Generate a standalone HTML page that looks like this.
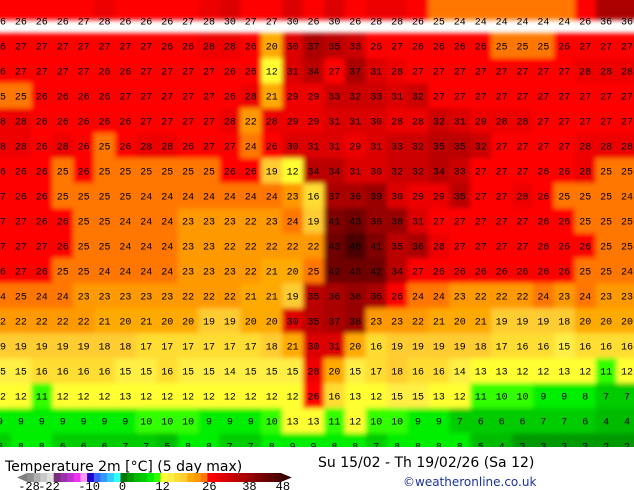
<!DOCTYPE html>
<html><head><meta charset="utf-8"><style>
html,body{margin:0;padding:0;background:#fff;width:634px;height:490px;overflow:hidden}
svg{display:block}
text{font-family:"Liberation Mono","DejaVu Sans Mono",monospace}
</style></head><body>
<svg id="chart" width="634" height="490" viewBox="0 0 634 490" xmlns="http://www.w3.org/2000/svg">
<defs><clipPath id="mapclip"><rect x="0" y="0" width="634" height="447"/></clipPath>
<filter id="soft" x="-5%" y="-5%" width="110%" height="110%"><feGaussianBlur stdDeviation="2.5"/></filter></defs>
<g clip-path="url(#mapclip)"><g id="field" filter="url(#soft)"></g></g>
<g id="labels" clip-path="url(#mapclip)"></g>
<text x="5" y="471" font-size="14" fill="#000" style="font-family:'DejaVu Sans',sans-serif">Temperature 2m [°C] (5 day max)</text>
<text x="318" y="467" font-size="14" fill="#000" style="font-family:'DejaVu Sans',sans-serif">Su 15/02 - Th 19/02/26 (Sa 12)</text>
<text x="403" y="486" font-size="12" fill="#1a3399" style="font-family:'DejaVu Sans',sans-serif">©weatheronline.co.uk</text>
<g id="legend"></g>
</svg>
<script>
const grid = [
[26,26,26,26,27,28,26,26,26,27,28,30,27,27,30,26,30,26,28,28,26,25,24,24,24,24,24,24,26,36,36],
[26,27,27,27,27,27,27,27,26,26,28,28,26,20,30,37,35,33,26,27,26,26,26,26,25,25,25,26,27,27,27],
[26,27,27,27,27,26,26,27,27,27,27,26,26,12,31,34,27,37,31,28,27,27,27,27,27,27,27,27,28,28,28],
[25,25,26,26,26,26,27,27,27,27,27,26,28,21,29,29,33,32,33,31,32,27,27,27,27,27,27,27,27,27,27],
[28,28,26,26,26,26,26,27,27,27,27,28,22,28,29,29,31,31,30,28,28,32,31,29,28,28,27,27,27,27,27],
[28,28,26,28,26,25,26,28,28,26,27,27,24,26,30,31,31,29,31,33,32,35,35,32,27,27,27,27,28,28,28],
[26,26,26,25,26,25,25,25,25,25,25,26,26,19,12,34,34,31,30,32,32,34,33,27,27,27,26,26,28,25,25],
[27,26,26,25,25,25,25,24,24,24,24,24,24,24,23,16,37,36,39,30,29,29,35,27,27,28,26,25,25,25,24],
[27,27,26,26,25,25,24,24,24,23,23,23,22,23,24,19,41,43,38,38,31,27,27,27,27,27,26,26,25,25,25],
[27,27,27,26,25,25,24,24,24,23,23,22,22,22,22,22,43,46,41,35,36,28,27,27,27,27,26,26,26,25,25],
[26,27,26,25,25,24,24,24,24,23,23,23,22,21,20,25,42,43,42,34,27,26,26,26,26,26,26,26,25,25,24],
[24,25,24,24,23,23,23,23,23,22,22,22,21,21,19,35,36,38,36,26,24,24,23,22,22,22,24,23,24,23,23],
[22,22,22,22,22,21,20,21,20,20,19,19,20,20,30,35,37,38,23,23,22,21,20,21,19,19,19,18,20,20,20],
[19,19,19,19,19,18,18,17,17,17,17,17,17,18,21,30,31,20,16,19,19,19,19,18,17,16,16,15,16,16,16],
[15,15,16,16,16,16,15,15,16,15,15,14,15,15,15,28,20,15,17,18,16,16,14,13,13,12,12,13,12,11,12],
[12,12,11,12,12,12,13,12,12,12,12,12,12,12,12,26,16,13,12,15,15,13,12,11,10,10,9,9,8,7,7],
[9,9,9,9,9,9,9,10,10,10,9,9,9,10,13,13,11,12,10,10,9,9,7,6,6,6,7,7,6,4,4],
[6,8,8,6,6,6,7,7,5,8,8,7,7,8,9,9,8,8,7,8,8,8,8,5,4,3,3,3,3,2,2]
];
const legendTicks = [-28,-22,-10,0,12,26,38,48];
const legendColors = ["#909090","#b0b0b0","#c8c8c8","#e0e0e0",
 "#7a2d7a","#9933aa","#bb33cc","#ee33ee","#ff99ff",
 "#2200cc","#3366ff","#3399ff","#33ccff","#33ffff",
 "#007700","#009900","#00bb00","#00cc00","#00ee00","#33ff00",
 "#ffff33","#ffee44","#ffdd33","#ffcc33","#ffaa00","#ff9900","#ff7700",
 "#ff0000","#ee0000","#dd0000","#cc0000","#bb0000","#aa0000",
 "#990000","#800000","#700000","#600000","#4c0000"];
const NS="http://www.w3.org/2000/svg";
const colX = i => 20.9*i;
const rowY = r => 20.7 + 25*r;
function colorOf(v){let k=Math.floor((v+28)/2);k=Math.max(0,Math.min(legendColors.length-1,k));return legendColors[k];}
const field=document.getElementById('field'), labels=document.getElementById('labels');
grid.forEach((row,r)=>row.forEach((v,c)=>{
  const rc=document.createElementNS(NS,'rect');
  const x0 = c===0 ? -20 : colX(c)-10.45;
  const w = (c===0 || c===row.length-1) ? 40 : 21.5;
  const y0 = r===0 ? -20 : rowY(r)-12.5;
  const h = (r===0 || r===grid.length-1) ? 40 : 25.5;
  rc.setAttribute('x',x0);rc.setAttribute('y',y0);
  rc.setAttribute('width',w);rc.setAttribute('height',h);
  rc.setAttribute('fill',colorOf(v));
  
  
  field.appendChild(rc);
  const t=document.createElementNS(NS,'text');
  t.setAttribute('x',colX(c));t.setAttribute('y',rowY(r)+4);
  t.setAttribute('text-anchor','middle');t.setAttribute('font-size','10');t.setAttribute('fill','#000');
  t.textContent=v;
  
  
  labels.appendChild(t);
}));
const lg=document.getElementById('legend');
const lx0=27, sw=6.68, ly=473, lh=9;
const legX = v => lx0 + (v+28)/2*sw;
const la=document.createElementNS(NS,'polygon');
la.setAttribute('points',`${lx0},${ly} ${lx0-10},${ly+lh/2} ${lx0},${ly+lh}`);la.setAttribute('fill','#808080');


lg.appendChild(la);
legendColors.forEach((col,i)=>{
  const r=document.createElementNS(NS,'rect');
  r.setAttribute('x',legX(-28+2*i));r.setAttribute('y',ly);r.setAttribute('width',sw+0.4);r.setAttribute('height',lh);r.setAttribute('fill',col);
  
  
  lg.appendChild(r);
});
const xe=legX(48);
const ra=document.createElementNS(NS,'polygon');
ra.setAttribute('points',`${xe},${ly} ${xe+11},${ly+lh/2} ${xe},${ly+lh}`);ra.setAttribute('fill','#3a0000');


lg.appendChild(ra);
legendTicks.forEach(v=>{
  const t=document.createElementNS(NS,'text');
  t.setAttribute('x',legX(v)+2);t.setAttribute('y',490);t.setAttribute('text-anchor','middle');t.setAttribute('font-size','12');
  t.textContent=v;
  
  
  lg.appendChild(t);
});
</script>
</body></html>
